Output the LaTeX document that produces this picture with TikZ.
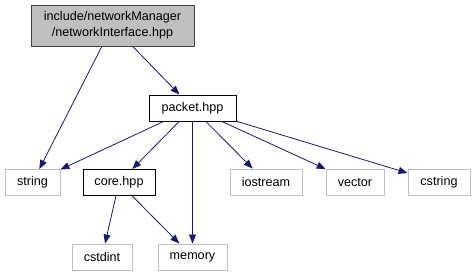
\documentclass[tikz,border=0pt]{standalone}
\usepackage{fontspec}
\setmainfont{Liberation Sans}
\usepackage{xcolor}
\definecolor{EdgeNavy}{HTML}{191970}
\definecolor{BoxGray}{HTML}{BFBFBF}
\definecolor{BoxDark}{HTML}{404040}
\usetikzlibrary{arrows.meta}

\begin{document}
\begin{tikzpicture}[x=1pt,y=-1pt,
    every node/.style={font=\fontsize{12.6}{16}\selectfont,inner sep=0pt,
      align=center,line width=0.9pt},
    mainfile/.style={draw=BoxDark,fill=BoxGray,minimum height=41pt},
    localinc/.style={draw=black,fill=white,minimum height=26pt},
    sysinc/.style={draw=BoxGray,fill=white,minimum height=26pt},
    dep/.style={draw=EdgeNavy,line width=0.8pt,
      -{Triangle[length=9pt,width=7pt]}}]
  \useasboundingbox (0,0) rectangle (475,276);
  % header being documented
  \node[mainfile,minimum width=163pt] (netif) at (112.5,25.5)
    {include/networkManager\\/networkInterface.hpp};
  % project headers
  \node[localinc,minimum width=87pt] (packet) at (192.5,108) {packet.hpp};
  \node[localinc,minimum width=72pt] (core) at (119,182.5) {core.hpp};
  % standard library headers
  \node[sysinc,minimum width=55pt] (string) at (32.5,182.5) {string};
  \node[sysinc,minimum width=72pt] (iostream) at (266,182) {iostream};
  \node[sysinc,minimum width=58pt] (vector) at (355,182.5) {vector};
  \node[sysinc,minimum width=62pt] (cstring) at (439,182.5) {cstring};
  \node[sysinc,minimum width=60pt] (cstdint) at (102,257) {cstdint};
  \node[sysinc,minimum width=69pt] (memory) at (192.5,257) {memory};
  % include edges
  \draw[dep] (netif) -- (string);
  \draw[dep] (netif) -- (packet);
  \draw[dep] (packet) -- (string);
  \draw[dep] (packet) -- (core);
  \draw[dep] (packet) -- (memory);
  \draw[dep] (packet) -- (iostream);
  \draw[dep] (packet) -- (vector);
  \draw[dep] (packet) -- (cstring);
  \draw[dep] (core) -- (cstdint);
  \draw[dep] (core) -- (memory);
\end{tikzpicture}
\end{document}
